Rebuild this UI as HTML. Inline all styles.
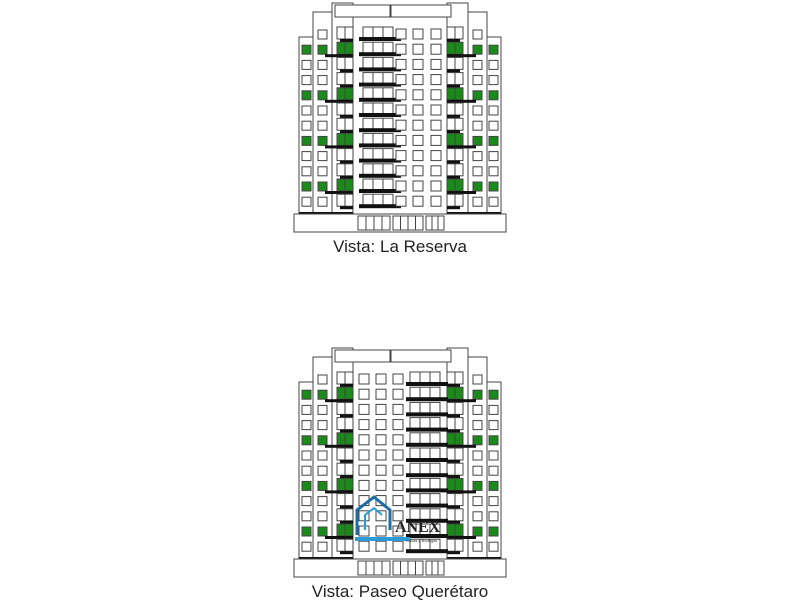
<!DOCTYPE html>
<html><head><meta charset="utf-8"><style>
body{margin:0;background:#fff;width:800px;height:600px;overflow:hidden}
svg{position:absolute;left:0;top:0}
.t{font-family:"Liberation Sans",sans-serif;font-size:17px;fill:#222;text-anchor:middle}
</style></head><body>
<svg id="s" width="800" height="600" viewBox="0 0 800 600">
<text class="t" x="400" y="252">Vista: La Reserva</text>
<text class="t" x="400" y="597">Vista: Paseo Querétaro</text>
</svg>
<script>
const s=document.getElementById('s');let h='';
function r(x,y,w,hh,f,sw){h+=`<rect x="${x}" y="${y}" width="${w}" height="${hh}" fill="${f||'#fff'}" stroke="#444" stroke-width="${sw==null?1:sw}"/>`;}
function b(x,y,w,hh){h+=`<rect x="${x}" y="${y}" width="${w}" height="${hh}" fill="#111"/>`;}
function pane(x,y,w,hh,n,f){r(x,y,w,hh,f);for(let k=1;k<n;k++){const xx=x+w*k/n;h+=`<line x1="${xx}" y1="${y}" x2="${xx}" y2="${y+hh}" stroke="#444" stroke-width="1"/>`;}}
function bld(o,mir){
  r(299,o+37,14,177);r(487,o+37,14,177);
  r(313,o+12,19,202);r(468,o+12,19,202);
  r(332,o+3,21,211);r(447,o+3,21,211);
  r(391,o+5,60,12);r(335,o+5,55,12);
  r(353,o+17,94,197);
  for(let i=0;i<12;i++){
    const y=o+29+i*15.2,g=(i%3==1);
    const gc=g?'#1a8a1a':'#fff';
    if(i>0){r(302,y+1,9,9,gc);r(489,y+1,9,9,gc);}
    r(318,y+1,9,9,gc);r(473,y+1,9,9,gc);
    pane(337,y-2,16,12,2,gc);pane(447,y-2,16,12,2,gc);
    if(g){b(325,y+10,28,3);b(447,y+10,29,3);}else{b(340,y+10,13,3);b(447,y+10,13,3);}
    const bx=mir?406:359, wx=mir?[359,376,393]:[396,413,431];
    pane(bx+4,y-2,30,11,3);b(bx,y+8,42,4);
    for(const x of wx) r(x,y,10,10);
  }
  b(299,o+212,54,3);b(447,o+212,54,3);
  r(294,o+214,212,18);
  pane(358,o+216,32,14,4);pane(393,o+216,30,14,4);pane(426,o+216,18,14,3);
}
bld(0,false);bld(345,true);
h+=`<path d="M357 535 L357 510 L374 497 L390 510 L390 530" fill="none" stroke="#1e6fa8" stroke-width="3"/>
<path d="M365 530 L365 515 L374 508 L382 515" fill="none" stroke="#2a9bd6" stroke-width="2"/>
<rect x="355" y="537" width="55" height="4" fill="#2a9bd6"/>
<text x="395" y="532" font-family="Liberation Serif" font-weight="bold" font-size="16" fill="#222">ANEX</text>
<text x="406" y="542" font-family="Liberation Sans" font-size="4" fill="#333">Casas y Bodegas</text>`;
s.insertAdjacentHTML('beforeend',h);
</script>
</body></html>
